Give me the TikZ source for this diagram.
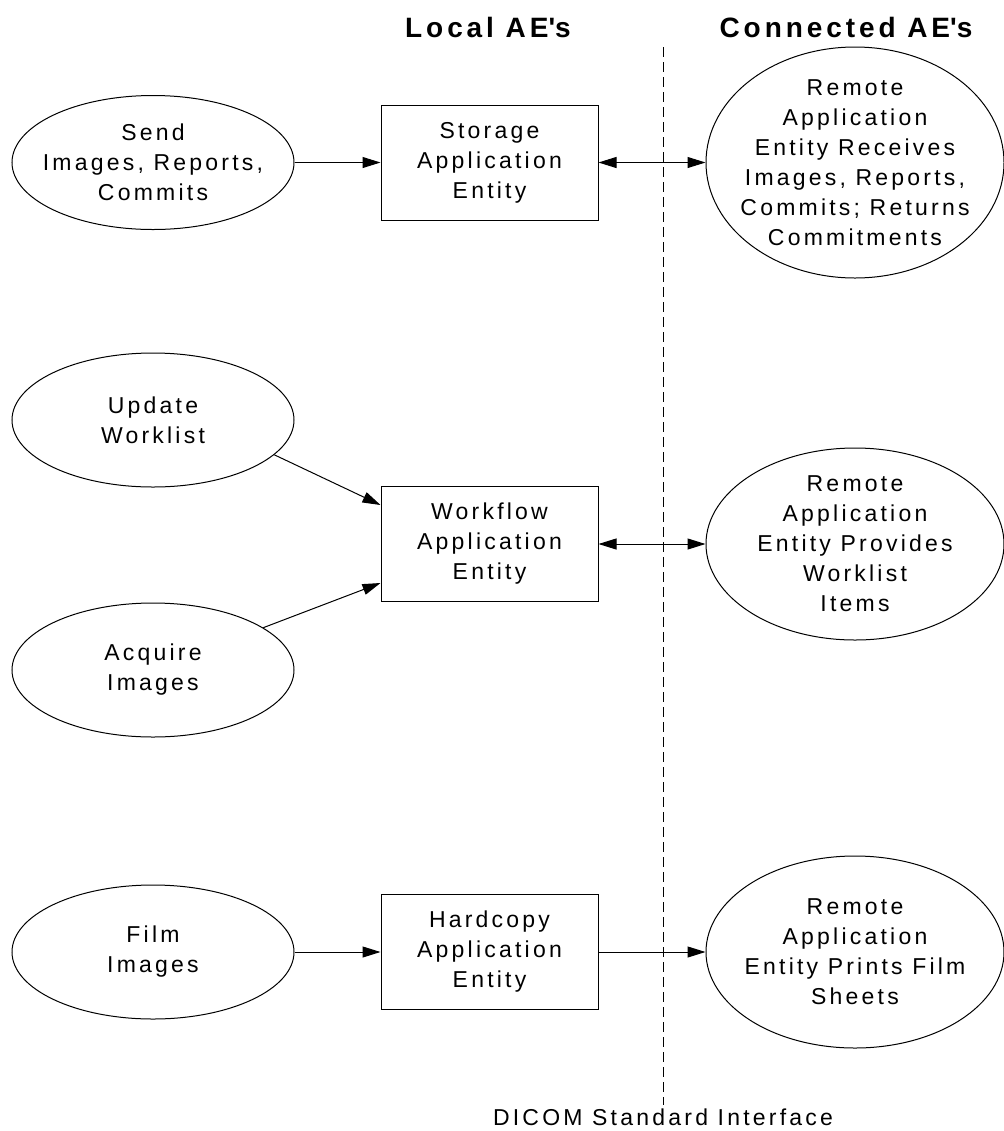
\documentclass[tikz,border=0pt]{standalone}
\usepackage{fontspec}
\setmainfont{Liberation Sans}[LetterSpace=14]
\usetikzlibrary{shapes.geometric,arrows.meta}

\tikzset{
  blob/.style={draw, ellipse, line width=0.5pt, inner sep=0pt},
  localblob/.style={blob, minimum width=141pt, minimum height=67pt},
  remoteblob/.style={blob, minimum width=149pt, minimum height=96pt},
  entity/.style={draw, rectangle, line width=0.5pt, minimum width=108.5pt, minimum height=57.5pt},
  words/.style={align=center, font=\fontsize{11.5}{15}\selectfont, inner sep=0pt},
  head/.style={font=\fontsize{14}{16}\selectfont\bfseries, inner sep=0pt},
  link/.style={line width=0.5pt, -{Triangle[length=9pt,width=5.5pt]}},
  twolink/.style={line width=0.5pt, {Triangle[length=9pt,width=5.5pt]}-{Triangle[length=9pt,width=5.5pt]}}
}

\begin{document}
\begin{tikzpicture}[x=0.5pt,y=-0.5pt]

\useasboundingbox (0,0) rectangle (1004,1131);

\node [head] (local) at (488,27) {Local AE\textquotesingle s};
\node [head] (connected) at (846,27) {Connected AE\textquotesingle s};

\coordinate (ifacetop) at (663,47);
\coordinate (ifacebot) at (663,1105);
\draw [dash pattern=on 5pt off 2.5pt, line width=0.5pt] (ifacetop) -- (ifacebot);
\node [words] (dicom) at (663,1117) {DICOM Standard Interface};

\node [localblob] (send) at (153,162.5) {};
\node [words] (sendtext) at (send) {Send\\Images, Reports,\\Commits};
\node [entity] (storage) at (489.5,162.5) {};
\node [words] (storagetext) at (storage) {Storage\\Application\\Entity};
\node [remoteblob, minimum height=115.5pt] (remotestore) at (855,162.5) {};
\node [words] (remotestoretext) at (remotestore) {Remote\\Application\\Entity Receives\\Images, Reports,\\Commits; Returns\\Commitments};

\node [localblob] (update) at (153,420) {};
\node [words] (updatetext) at (update) {Update\\Worklist};
\node [localblob] (acquire) at (153,670) {};
\node [words] (acquiretext) at (acquire) {Acquire\\Images};
\node [entity] (workflow) at (489.5,544) {};
\node [words] (workflowtext) at (workflow) {Workflow\\Application\\Entity};
\node [remoteblob] (remotework) at (855,544) {};
\node [words] (remoteworktext) at (remotework) {Remote\\Application\\Entity Provides\\Worklist\\Items};

\node [localblob] (film) at (153,952) {};
\node [words] (filmtext) at (film) {Film\\Images};
\node [entity] (hardcopy) at (489.5,952) {};
\node [words] (hardcopytext) at (hardcopy) {Hardcopy\\Application\\Entity};
\node [remoteblob] (remoteprint) at (855,952) {};
\node [words] (remoteprinttext) at (remoteprint) {Remote\\Application\\Entity Prints Film\\Sheets};

\draw [link] (send) -- (storage);
\draw [twolink] (storage) -- (remotestore);
\draw [link] (update.-16) -- ([yshift=19.5pt]workflow.west);
\draw [link] (acquire.21) -- ([yshift=-19.5pt]workflow.west);
\draw [twolink] (workflow) -- (remotework);
\draw [link] (film) -- (hardcopy);
\draw [link] (hardcopy) -- (remoteprint);

\end{tikzpicture}
\end{document}
